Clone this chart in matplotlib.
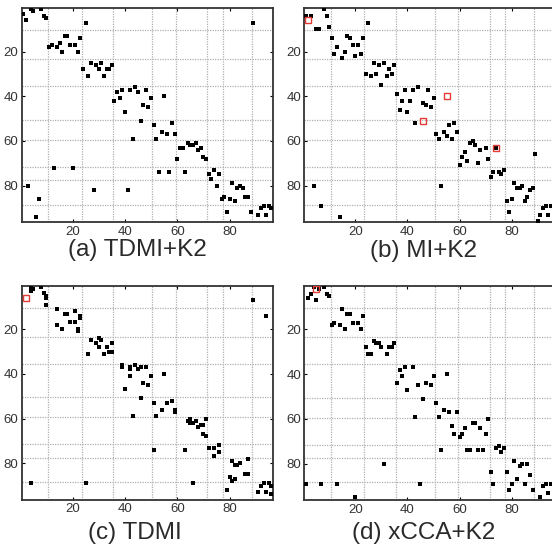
import matplotlib
matplotlib.use('Agg')
import matplotlib.pyplot as plt

plt.rcParams['font.family'] = ['Liberation Sans', 'DejaVu Sans']

n = 96
bounds = [10.5, 23.5, 35.5, 50.5, 59.5, 71.5, 77.5, 88.5]
ticks = [20, 40, 60, 80]
titles = ['(a) TDMI+K2', '(b) MI+K2', '(c) TDMI', '(d) xCCA+K2']

# (column, row) of every nonzero entry
a_pts = [(1, 3), (2, 6), (4, 1), (5, 2), (8, 1), (9, 4), (10, 5), (25, 7),
         (11, 18), (12, 17), (14, 18), (15, 16), (16, 20), (17, 13), (18, 13), (19, 17), (21, 17), (22, 20), (23, 14),
         (24, 28), (26, 31), (27, 25), (29, 26), (30, 28), (31, 25), (32, 31), (33, 28), (34, 28), (35, 26),
         (36, 42), (37, 38), (38, 41), (39, 37), (40, 47), (42, 37), (44, 36), (45, 38), (43, 59), (47, 44),
         (48, 37), (49, 45), (46, 51), (50, 41), (55, 40),
         (51, 53), (52, 59), (54, 56), (56, 57), (58, 52), (59, 57),
         (60, 68), (61, 63), (62, 63), (64, 61), (65, 62), (66, 62), (67, 61), (68, 64), (69, 63), (70, 67), (71, 68),
         (53, 74), (57, 74), (63, 74),
         (72, 75), (73, 77), (74, 73), (75, 80), (76, 75),
         (77, 86), (78, 85), (79, 92), (80, 86), (81, 79), (82, 87), (83, 81), (84, 80), (85, 81), (86, 85),
         (87, 85), (88, 92), (89, 7),
         (91, 93), (92, 90), (93, 89), (94, 93), (95, 89), (96, 90),
         (3, 80), (7, 86), (6, 94), (13, 72), (20, 72), (28, 82), (41, 82)]
a_red = []

b_pts = [(1, 4), (3, 4), (8, 1), (9, 4), (10, 9), (5, 10), (6, 10), (25, 7),
         (11, 14), (12, 21), (13, 18), (15, 23), (16, 20), (17, 13), (18, 14), (19, 17), (20, 22), (21, 17),
         (22, 21), (23, 14),
         (24, 30), (26, 31), (27, 25), (28, 30), (29, 26), (30, 35), (31, 25), (32, 31), (33, 28), (34, 30), (35, 26),
         (36, 39), (37, 46), (38, 42), (39, 37), (40, 47), (41, 42), (42, 37), (43, 52), (44, 36), (46, 43),
         (47, 44), (48, 37), (49, 45), (50, 41),
         (51, 57), (52, 59), (54, 56), (55, 58), (56, 53), (57, 59), (58, 52), (59, 56),
         (60, 71), (61, 67), (62, 65), (63, 69), (64, 61), (65, 60), (66, 62), (67, 70), (68, 64), (70, 63),
         (71, 68), (74, 63),
         (53, 80), (72, 76), (73, 74), (75, 74), (76, 75), (77, 73),
         (78, 87), (79, 92), (80, 86), (81, 79), (82, 81), (83, 81), (84, 80), (85, 87), (86, 85), (87, 82),
         (88, 81), (89, 66),
         (90, 96), (91, 93), (92, 90), (93, 89), (94, 93), (95, 89),
         (4, 80), (7, 89), (14, 94)]
b_red = [(2, 6), (46, 51), (55, 40), (74, 63)]

c_pts = [(4, 1), (5, 2), (4, 3), (8, 1), (9, 4), (10, 5), (10, 6), (10, 9),
         (14, 11), (14, 18), (16, 20), (17, 13), (18, 13), (19, 17), (21, 12), (21, 17), (22, 20), (22, 21),
         (23, 14), (23, 15),
         (26, 31), (27, 25), (29, 26), (30, 24), (30, 28), (31, 25), (32, 31), (33, 28), (34, 30), (35, 30), (35, 26),
         (39, 36), (39, 37), (40, 47), (42, 37), (42, 38), (42, 41), (44, 36), (45, 38), (46, 37), (47, 44),
         (48, 37), (49, 45), (46, 51), (43, 59), (50, 41), (55, 40),
         (51, 53), (52, 59), (54, 56), (56, 53), (58, 52), (59, 56), (59, 57), (51, 74),
         (64, 61), (65, 60), (65, 62), (66, 62), (67, 61), (68, 64), (69, 63), (70, 63), (70, 67), (71, 68),
         (71, 60), (63, 74),
         (72, 73), (74, 73), (74, 77), (76, 72), (76, 75),
         (79, 92), (80, 86), (81, 79), (81, 88), (82, 81), (83, 81), (82, 87), (84, 80), (86, 85), (87, 85),
         (87, 78), (89, 7), (94, 14),
         (91, 93), (92, 90), (93, 89), (94, 93), (95, 89), (96, 90), (96, 94),
         (4, 89), (25, 89), (66, 89)]
c_red = [(2, 6)]

d_pts = [(2, 6), (3, 4), (5, 7), (4, 1), (6, 2), (8, 1), (9, 4), (10, 5),
         (11, 18), (12, 17), (14, 18), (15, 11), (16, 20), (17, 13), (18, 13), (19, 17), (21, 17), (22, 20), (23, 14),
         (24, 28), (25, 31), (26, 31), (27, 25), (28, 26), (29, 26), (30, 28), (32, 31), (33, 28), (34, 28), (35, 26),
         (36, 44), (37, 38), (38, 41), (39, 37), (40, 47), (42, 37), (43, 59), (44, 45), (47, 44), (46, 51),
         (49, 45), (50, 41), (55, 40),
         (51, 53), (52, 59), (54, 56), (56, 57), (57, 63), (58, 67), (59, 57), (60, 68), (61, 67), (62, 64), (53, 74),
         (63, 74), (64, 74), (65, 62), (66, 62), (67, 74), (68, 64), (69, 74), (70, 67), (71, 60),
         (72, 84), (73, 89), (74, 73), (75, 72), (76, 75), (77, 73),
         (78, 84), (79, 92), (80, 89), (81, 79), (82, 87), (83, 81), (84, 80), (85, 89), (86, 80), (87, 85), (88, 92),
         (91, 95), (92, 90), (93, 89), (94, 93), (95, 89),
         (1, 89), (7, 89), (13, 89), (20, 95), (31, 80), (45, 89)]
d_red = [(5, 2)]

panels = [(a_pts, a_red), (b_pts, b_red), (c_pts, c_red), (d_pts, d_red)]
boxes = [[0.0391, 0.5927, 0.4551, 0.3925], [0.5516, 0.5927, 0.4534, 0.3925],
         [0.0391, 0.0842, 0.4551, 0.3927], [0.5516, 0.0836, 0.4534, 0.3927]]
title_xy = [(0.248, 0.562), (0.767, 0.560), (0.244, 0.044), (0.767, 0.044)]

fig = plt.figure(figsize=(5.52, 5.46), dpi=100)

for (pts, red), box, t, (tx, ty) in zip(panels, boxes, titles, title_xy):
    ax = fig.add_axes(box)
    ax.set_xlim(0.5, n + 0.5)
    ax.set_ylim(n + 0.5, 0.5)
    for b in bounds:
        ax.axvline(b, color='#b0b0b0', ls=(0, (1, 1)), lw=0.9, zorder=1)
        ax.axhline(b, color='#b0b0b0', ls=(0, (1, 1)), lw=0.9, zorder=1)
    ax.plot([p[0] for p in pts], [p[1] for p in pts], 's', color='black', ms=2.2, mew=0, zorder=3)
    if red:
        ax.plot([p[0] for p in red], [p[1] for p in red], 's', mfc='none', mec='#e23a35',
                ms=5.0, mew=1.0, zorder=4)
    ax.set_xticks(ticks)
    ax.set_yticks(ticks)
    ax.tick_params(direction='in', top=True, right=True, length=2.5, width=0.8,
                   labelsize=9.5, labelcolor='#333333', pad=2.5)
    for s in ax.spines.values():
        s.set_color('#333333')
        s.set_linewidth(1.3)
    fig.text(tx, ty, t, ha='center', va='top', fontsize=17.5, color='#2a2a2a')

fig.savefig('out.png', dpi=100)
